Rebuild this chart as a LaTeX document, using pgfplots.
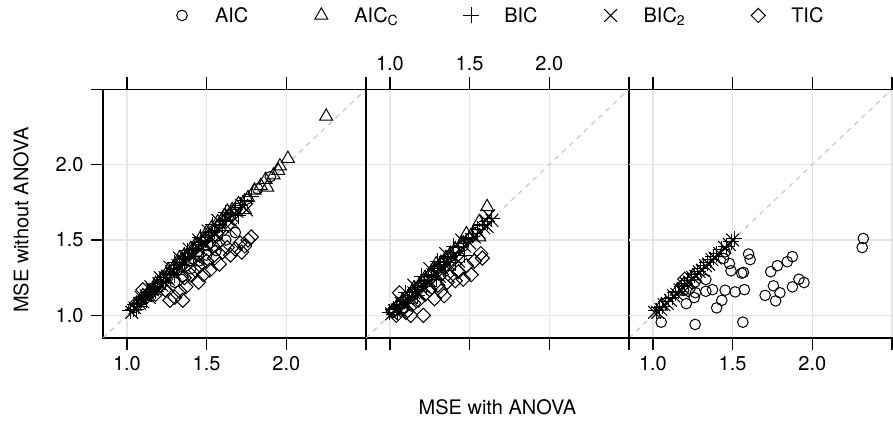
\documentclass[border=0pt]{standalone}
\usepackage{pgfplots}
\pgfplotsset{compat=1.18}
\usepackage{fontspec}
\setmainfont{TeX Gyre Heros}
\definecolor{gridc}{HTML}{E6E6E6}
\definecolor{diagc}{HTML}{BEBEBE}
\newcommand{\lf}{\fontsize{20bp}{24bp}\selectfont}
\pgfplotsset{
  lat/.style={
    scale only axis, width=263bp, height=248.7bp,
    xmin=0.85,xmax=2.5,ymin=0.85,ymax=2.5,
    xtick={1,1.5,2,2.5}, ytick={1,1.5,2,2.5},
    xticklabels={1.0,1.5,2.0,{}}, yticklabels={1.0,1.5,2.0,{}},
    grid=major, major grid style={gridc, line width=1.2bp},
    tick align=outside, major tick length=12bp,
    tick style={black, line width=1.2bp},
    axis line style={black, line width=1.2bp},
    tick label style={font=\lf},
    xticklabel shift=3bp, yticklabel shift=4bp,
    label style={font=\lf},
    anchor=south west,
  },
  mk/.style={only marks, black, line width=1bp,
    legend image code/.code={\path[draw=none,fill=none] (-8bp,-6bp) rectangle (8bp,6bp);\draw[##1] plot coordinates {(0bp,0bp)};}},
  sAIC/.style={mk, mark=o, mark size=5.3bp, mark options={solid, fill=none}},
  sAICc/.style={mk, mark=triangle, mark size=7.5bp, mark options={solid, fill=none}},
  sBIC/.style={mk, mark=+, mark size=8bp, mark options={solid, fill=none}},
  sBICt/.style={mk, mark=x, mark size=9bp, mark options={solid, fill=none}},
  sTIC/.style={mk, mark=square, mark size=5bp, mark options={solid, fill=none, rotate=45}},
  diag/.style={diagc, line width=1bp, dash pattern=on 5bp off 5bp, forget plot},
}
\begin{document}
\begin{tikzpicture}
\path[use as bounding box] (0,0) rectangle (893bp,421bp);
% ---------------- panel 1
\begin{axis}[lat, at={(103bp,83bp)},
  xtick pos=both, xticklabel pos=lower, ytick pos=left, yticklabel pos=left,
  ylabel={MSE without ANOVA},
  ylabel style={at={(axis description cs:-0.284,0.474)}, anchor=base},
  legend columns=5, legend cell align=left,
  legend style={draw=none, fill=none, inner sep=0pt, outer sep=0pt,
    nodes={inner sep=0pt},
    at={(axis description cs:0.27,1.297)}, anchor=west, font=\lf,
    /tikz/every odd column/.append style={column sep=25bp},
    /tikz/every even column/.append style={column sep=65bp}},
]
\addplot[diag] coordinates {(0.85,0.85) (2.5,2.5)};
\addplot[sAIC] coordinates {(1.04,1.05) (1.09,1.10) (1.14,1.15) (1.19,1.20) (1.24,1.26) (1.29,1.30) (1.34,1.36) (1.39,1.41) (1.44,1.46) (1.49,1.51) (1.54,1.56) (1.59,1.61) (1.64,1.66) (1.69,1.71) (1.75,1.77) (1.82,1.84) (1.90,1.92) (1.30,1.22) (1.40,1.31) (1.50,1.40) (1.56,1.43) (1.62,1.50) (1.68,1.55) (1.35,1.26) (1.45,1.36)};
\addlegendentry{AIC}
\addplot[sAICc] coordinates {(1.05,1.06) (1.10,1.13) (1.14,1.16) (1.18,1.21) (1.22,1.25) (1.26,1.30) (1.30,1.33) (1.33,1.38) (1.36,1.40) (1.40,1.44) (1.43,1.47) (1.46,1.51) (1.50,1.55) (1.53,1.58) (1.57,1.62) (1.61,1.66) (1.63,1.69) (1.66,1.70) (1.70,1.74) (1.74,1.70) (1.76,1.78) (1.80,1.83) (1.84,1.86) (1.87,1.90) (1.88,1.85) (1.92,1.93) (1.95,1.96) (1.96,1.99) (2.01,2.04) (2.25,2.32)};
\addlegendentry{AIC\textsubscript{C}}
\addplot[sBIC] coordinates {(1.02,1.03) (1.04,1.04) (1.05,1.07) (1.07,1.06) (1.09,1.10) (1.11,1.12) (1.13,1.15) (1.15,1.14) (1.17,1.19) (1.19,1.21) (1.21,1.22) (1.23,1.25) (1.25,1.27) (1.27,1.28) (1.29,1.31) (1.31,1.33) (1.33,1.34) (1.35,1.37) (1.37,1.38) (1.39,1.41) (1.41,1.43) (1.43,1.44) (1.45,1.47) (1.47,1.49) (1.49,1.50) (1.51,1.53) (1.53,1.55) (1.55,1.56) (1.58,1.60) (1.60,1.62) (1.62,1.63) (1.65,1.67) (1.68,1.70) (1.71,1.73) (1.74,1.76) (1.78,1.79) (1.06,1.04) (1.12,1.10) (1.18,1.16) (1.24,1.22) (1.30,1.27) (1.36,1.33) (1.42,1.39) (1.48,1.44) (1.54,1.50) (1.60,1.56) (1.30,1.35) (1.38,1.43) (1.46,1.52) (1.54,1.60) (1.62,1.68) (1.70,1.66)};
\addlegendentry{BIC}
\addplot[sBICt] coordinates {(1.03,1.02) (1.05,1.05) (1.08,1.08) (1.10,1.09) (1.12,1.13) (1.14,1.12) (1.16,1.17) (1.18,1.17) (1.20,1.21) (1.22,1.20) (1.24,1.25) (1.26,1.24) (1.28,1.29) (1.30,1.28) (1.32,1.33) (1.34,1.32) (1.36,1.36) (1.38,1.37) (1.40,1.40) (1.42,1.39) (1.44,1.45) (1.46,1.44) (1.48,1.48) (1.50,1.47) (1.52,1.52) (1.55,1.54) (1.57,1.58) (1.60,1.59) (1.63,1.64) (1.66,1.66) (1.69,1.69) (1.72,1.73) (1.66,1.62) (1.58,1.52) (1.09,1.12) (1.15,1.19) (1.21,1.25) (1.27,1.32) (1.33,1.38) (1.39,1.44) (1.45,1.50) (1.51,1.56) (1.57,1.63) (1.25,1.20) (1.35,1.29) (1.45,1.38) (1.55,1.47) (1.65,1.57) (1.75,1.70)};
\addlegendentry{BIC\textsubscript{2}}
\addplot[sTIC] coordinates {(1.06,1.08) (1.10,1.17) (1.12,1.12) (1.15,1.15) (1.18,1.14) (1.21,1.20) (1.24,1.17) (1.27,1.10) (1.30,1.12) (1.33,1.16) (1.35,1.10) (1.37,1.19) (1.36,1.25) (1.40,1.27) (1.43,1.30) (1.46,1.33) (1.48,1.27) (1.50,1.36) (1.52,1.30) (1.55,1.38) (1.58,1.34) (1.60,1.42) (1.63,1.45) (1.65,1.40) (1.68,1.44) (1.71,1.48) (1.74,1.46) (1.76,1.50) (1.78,1.52) (1.72,1.42) (1.54,1.46) (1.45,1.22)};
\addlegendentry{TIC}
\end{axis}
% ---------------- panel 2
\begin{axis}[lat, at={(366bp,83bp)},
  xtick pos=both, xticklabel pos=upper, ytick style={draw=none}, yticklabels={},
  xlabel={MSE with ANOVA},
  xlabel style={at={(axis description cs:0.5,-0.3096)}, anchor=base},
]
\addplot[diag] coordinates {(0.85,0.85) (2.5,2.5)};
\addplot[sAIC] coordinates {(1.02,1.03) (1.06,1.07) (1.10,1.11) (1.14,1.15) (1.18,1.19) (1.22,1.23) (1.26,1.27) (1.30,1.31) (1.34,1.35) (1.38,1.39) (1.42,1.43) (1.46,1.46) (1.50,1.51) (1.54,1.55)};
\addplot[sAICc] coordinates {(1.02,1.03) (1.05,1.07) (1.08,1.10) (1.12,1.13) (1.15,1.18) (1.19,1.21) (1.22,1.25) (1.26,1.29) (1.29,1.34) (1.32,1.35) (1.35,1.38) (1.38,1.41) (1.41,1.44) (1.45,1.48) (1.48,1.54) (1.51,1.53) (1.56,1.52) (1.56,1.62) (1.61,1.72)};
\addplot[sBIC] coordinates {(1.00,1.02) (1.02,1.04) (1.04,1.05) (1.06,1.07) (1.08,1.09) (1.10,1.12) (1.12,1.13) (1.14,1.16) (1.16,1.17) (1.18,1.20) (1.20,1.21) (1.22,1.23) (1.24,1.26) (1.26,1.27) (1.28,1.30) (1.30,1.31) (1.32,1.34) (1.34,1.35) (1.36,1.38) (1.38,1.39) (1.40,1.42) (1.43,1.45) (1.46,1.48) (1.49,1.51) (1.52,1.54) (1.55,1.57) (1.58,1.60) (1.61,1.62) (1.64,1.64) (1.05,1.02) (1.11,1.08) (1.17,1.13) (1.23,1.19) (1.29,1.24) (1.35,1.30) (1.41,1.35) (1.47,1.40) (1.10,1.15) (1.20,1.26) (1.30,1.36) (1.40,1.46)};
\addplot[sBICt] coordinates {(1.01,1.01) (1.03,1.03) (1.05,1.04) (1.07,1.08) (1.09,1.07) (1.11,1.11) (1.13,1.12) (1.15,1.15) (1.17,1.15) (1.19,1.19) (1.21,1.19) (1.23,1.23) (1.25,1.23) (1.27,1.27) (1.29,1.27) (1.31,1.31) (1.33,1.31) (1.35,1.35) (1.37,1.34) (1.39,1.39) (1.41,1.38) (1.44,1.43) (1.47,1.46) (1.50,1.48) (1.53,1.52) (1.56,1.55) (1.59,1.58) (1.61,1.59) (1.64,1.63) (1.07,1.03) (1.13,1.09) (1.19,1.14) (1.25,1.20) (1.31,1.26) (1.37,1.31) (1.43,1.36) (1.15,1.20) (1.25,1.31) (1.35,1.41) (1.45,1.50) (1.62,1.66) (1.60,1.63)};
\addplot[sTIC] coordinates {(1.02,1.03) (1.04,1.00) (1.06,1.15) (1.08,1.05) (1.10,1.02) (1.13,1.00) (1.15,1.08) (1.18,1.10) (1.21,1.00) (1.22,1.14) (1.25,1.17) (1.28,1.11) (1.30,1.20) (1.32,1.16) (1.34,1.13) (1.36,1.22) (1.38,1.26) (1.41,1.23) (1.43,1.29) (1.46,1.24) (1.48,1.33) (1.51,1.27) (1.53,1.36) (1.57,1.41) (1.58,1.38)};
\end{axis}
% ---------------- panel 3
\begin{axis}[lat, at={(629bp,83bp)}, clip=false,
  axis line style={draw=none},
  xtick pos=both, xticklabel pos=lower, ytick style={draw=none}, yticklabels={},
]
\addplot[diag] coordinates {(0.85,0.85) (2.5,2.5)};
\addplot[sAIC] coordinates {(1.052,0.955) (1.265,0.94) (1.564,0.955) (2.32,1.51) (2.313,1.45) (1.875,1.39) (1.843,1.356) (1.781,1.33) (1.739,1.29) (1.916,1.24) (1.948,1.218) (1.875,1.189) (1.756,1.196) (1.797,1.15) (1.77,1.096) (1.704,1.133) (1.6,1.407) (1.61,1.37) (1.568,1.285) (1.557,1.28) (1.49,1.296) (1.48,1.344) (1.443,1.378) (1.574,1.171) (1.516,1.156) (1.453,1.167) (1.432,1.1) (1.4,1.05) (1.374,1.171) (1.332,1.16) (1.332,1.238) (1.259,1.118) (1.209,1.078) (1.267,1.151) (1.192,1.167) (1.265,1.222) (1.453,1.422)};
\addplot[sAICc] coordinates {(1.05,1.06) (1.15,1.16) (1.25,1.26)};
\addplot[sBIC] coordinates {(1.02,1.03) (1.04,1.05) (1.06,1.06) (1.08,1.09) (1.10,1.11) (1.12,1.12) (1.14,1.15) (1.16,1.16) (1.18,1.19) (1.20,1.21) (1.22,1.23) (1.24,1.25) (1.26,1.27) (1.28,1.29) (1.30,1.31) (1.32,1.33) (1.34,1.35) (1.36,1.37) (1.38,1.39) (1.40,1.41) (1.43,1.44) (1.46,1.46) (1.49,1.49) (1.51,1.51)};
\addplot[sBICt] coordinates {(1.01,1.02) (1.03,1.02) (1.05,1.04) (1.07,1.07) (1.09,1.08) (1.11,1.10) (1.13,1.13) (1.15,1.14) (1.17,1.17) (1.19,1.18) (1.21,1.21) (1.23,1.22) (1.25,1.25) (1.27,1.26) (1.29,1.29) (1.31,1.30) (1.33,1.33) (1.35,1.34) (1.37,1.37) (1.39,1.38) (1.42,1.41) (1.45,1.45) (1.48,1.47) (1.50,1.50)};
\addplot[sTIC] coordinates {(1.19,1.20) (1.22,1.17) (1.20,1.24)};
\draw[black, line width=1.2bp] (rel axis cs:0,0) -- (rel axis cs:1.02,0);
\draw[black, line width=1.2bp] (rel axis cs:0,1) -- (rel axis cs:1.02,1);
\end{axis}
\end{tikzpicture}
\end{document}
